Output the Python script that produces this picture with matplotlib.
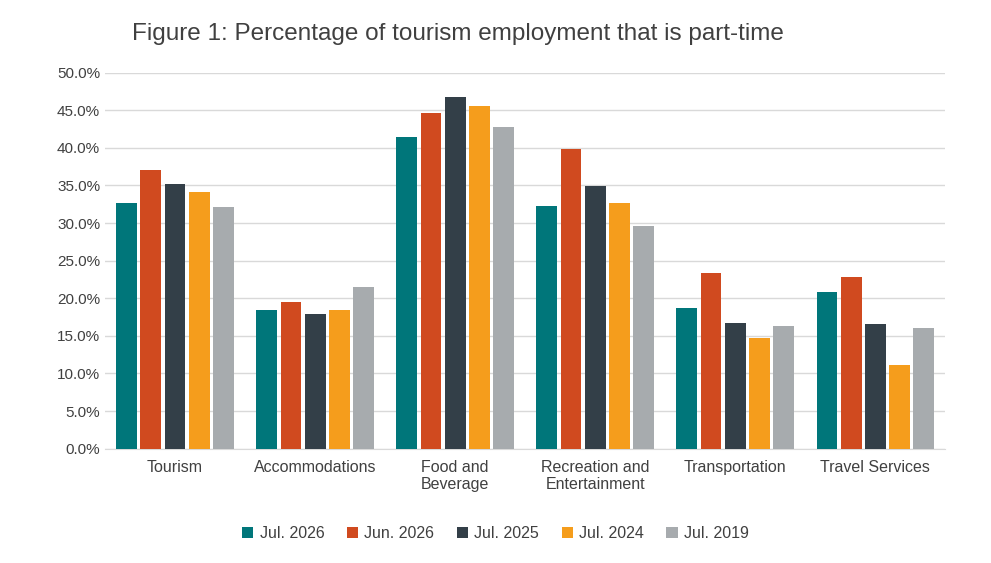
import numpy as np
import matplotlib.pyplot as plt
from matplotlib.ticker import PercentFormatter

categories = ["Tourism", "Accommodations", "Food and\nBeverage",
              "Recreation and\nEntertainment", "Transportation", "Travel Services"]
series_names = ["Jul. 2026", "Jun. 2026", "Jul. 2025", "Jul. 2024", "Jul. 2019"]
jul_2026 = [32.7, 18.4, 41.4, 32.3, 18.7, 20.9]
jun_2026 = [37.1, 19.5, 44.6, 39.9, 23.3, 22.8]
jul_2025 = [35.2, 17.9, 46.8, 34.9, 16.7, 16.6]
jul_2024 = [34.1, 18.4, 45.5, 32.7, 14.7, 11.1]
jul_2019 = [32.2, 21.5, 42.8, 29.6, 16.3, 16.0]
colors = ["#00767A", "#D04A1F", "#333F48", "#F59D1C", "#A7ABAE"]


def main():
    plt.rcParams["font.family"] = ["Liberation Sans", "DejaVu Sans"]
    fig = plt.figure(figsize=(9.91, 5.63), dpi=100)
    ax = fig.add_axes([0.106, 0.203, 0.848, 0.668])

    x = np.arange(len(categories))
    width = 0.148
    gap = 0.025
    data = [jul_2026, jun_2026, jul_2025, jul_2024, jul_2019]
    for i, (name, vals, c) in enumerate(zip(series_names, data, colors)):
        offset = (i - 2) * (width + gap)
        ax.bar(x + offset, vals, width, color=c, label=name, zorder=3)

    ax.set_ylim(0, 50)
    ax.set_yticks(np.arange(0, 51, 5))
    ax.yaxis.set_major_formatter(PercentFormatter(decimals=1))
    ax.set_xlim(-0.5, len(categories) - 0.5)
    ax.set_xticks(x)
    ax.set_xticklabels(categories, fontsize=11.5, color="#404040")
    ax.tick_params(axis="y", labelsize=11, colors="#404040", length=0)
    ax.tick_params(axis="x", length=0, pad=8)
    ax.grid(axis="y", color="#D9D9D9", linewidth=1, zorder=0)
    for s in ["top", "right", "left"]:
        ax.spines[s].set_visible(False)
    ax.spines["bottom"].set_color("#D9D9D9")

    fig.text(0.133, 0.94, "Figure 1: Percentage of tourism employment that is part-time",
             fontsize=17.5, color="#404040", va="center")
    fig.legend(loc="center", bbox_to_anchor=(0.5, 0.052), ncol=5, frameon=False,
               fontsize=11.5, handlelength=0.7, handleheight=0.7, columnspacing=1.4,
               handletextpad=0.4, labelcolor="#404040")

    fig.savefig("out.png", dpi=100)


if __name__ == "__main__":
    main()
